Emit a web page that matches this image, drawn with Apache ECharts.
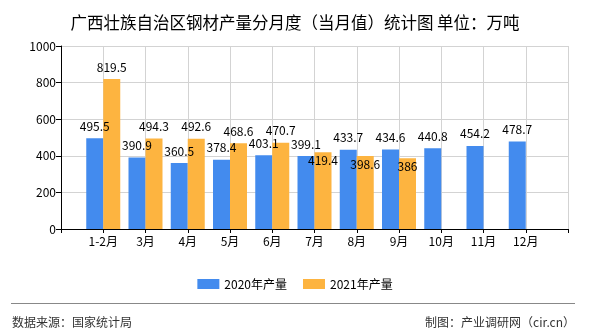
<!DOCTYPE html>
<html><head><meta charset="utf-8">
<script src="https://cdn.jsdelivr.net/npm/echarts@6/dist/echarts.min.js"></script>
<style>html,body{margin:0;padding:0;background:#fff}#c{width:590px;height:330px}</style>
</head><body><div id="c"></div>
<script>
const categories = ['1-2月','3月','4月','5月','6月','7月','8月','9月','10月','11月','12月'];
const values2020 = [495.5, 390.9, 360.5, 378.4, 403.1, 399.1, 433.7, 434.6, 440.8, 454.2, 478.7];
const values2021 = [819.5, 494.3, 492.6, 468.6, 470.7, 419.4, 398.6, 386];
const seriesNames = ['2020年产量', '2021年产量'];
const yTicks = [0, 200, 400, 600, 800, 1000];

const FONT = '"Noto Sans CJK SC", "Noto Sans", sans-serif';
const axisCats = [''].concat(categories, ['']);
function pad(arr) {
  const out = ['-'];
  for (let i = 0; i < categories.length; i++) out.push(i < arr.length ? arr[i] : '-');
  out.push('-');
  return out;
}
const insideLabelIdx = [5, 6, 7];
const data2021 = pad(values2021).map((v, i) => {
  if (insideLabelIdx.indexOf(i - 1) >= 0) {
    return { value: v, label: { position: 'insideTop', distance: 2 } };
  }
  return v;
});

const chart = echarts.init(document.getElementById('c'), null, { renderer: 'canvas' });
chart.setOption({
  animation: false,
  backgroundColor: '#fff',
  textStyle: { fontFamily: FONT },
  title: {
    text: '广西壮族自治区钢材产量分月度（当月值）统计图 单位：万吨',
    left: 'center', top: 9,
    textStyle: { fontSize: 16.5, fontWeight: 'normal', color: '#000', fontFamily: FONT }
  },
  legend: {
    top: 273, left: 'center',
    itemWidth: 22, itemHeight: 10, itemGap: 16,
    icon: 'rect',
    textStyle: { fontSize: 12, color: '#000', fontFamily: FONT },
    data: seriesNames
  },
  grid: { left: 61, right: 22, top: 46, bottom: 101, containLabel: false },
  xAxis: {
    type: 'category',
    data: axisCats,
    boundaryGap: false,
    axisLine: { lineStyle: { color: '#000', width: 1 } },
    axisTick: { show: true, length: 4, interval: 0, lineStyle: { color: '#000' } },
    axisLabel: { interval: 0, color: '#000', fontSize: 12, margin: 6, fontFamily: FONT },
    splitLine: { show: true, interval: 0, lineStyle: { color: '#d3d3d3', width: 1 } }
  },
  yAxis: {
    type: 'value',
    min: yTicks[0], max: yTicks[yTicks.length - 1], interval: yTicks[1] - yTicks[0],
    axisLine: { show: true, lineStyle: { color: '#000', width: 1 } },
    axisTick: { show: true, length: 5, lineStyle: { color: '#000' } },
    axisLabel: { color: '#000', fontSize: 12, margin: 5, fontFamily: FONT, formatter: (v) => String(v) },
    splitLine: { show: true, lineStyle: { color: '#d3d3d3', width: 1 } }
  },
  series: [
    {
      name: seriesNames[0], type: 'bar', data: pad(values2020),
      barWidth: 17, barGap: '0%',
      itemStyle: { color: '#438BEE' },
      label: { show: true, position: 'top', distance: 6, color: '#000', fontSize: 12, fontFamily: FONT }
    },
    {
      name: seriesNames[1], type: 'bar', data: data2021,
      barWidth: 17, barGap: '0%',
      itemStyle: { color: '#FDB440' },
      label: { show: true, position: 'top', distance: 6, color: '#000', fontSize: 12, fontFamily: FONT }
    }
  ],
  graphic: [
    { type: 'line', shape: { x1: 11, y1: 303.5, x2: 575, y2: 303.5 }, style: { stroke: '#888', lineWidth: 1 } },
    { type: 'text', left: 12, top: 316, style: { text: '数据来源：国家统计局', fill: '#333', font: '12px ' + FONT } },
    { type: 'text', right: 15, top: 316, style: { text: '制图：产业调研网（cir.cn）', fill: '#333', font: '12px ' + FONT } }
  ]
});
</script>
</body></html>
